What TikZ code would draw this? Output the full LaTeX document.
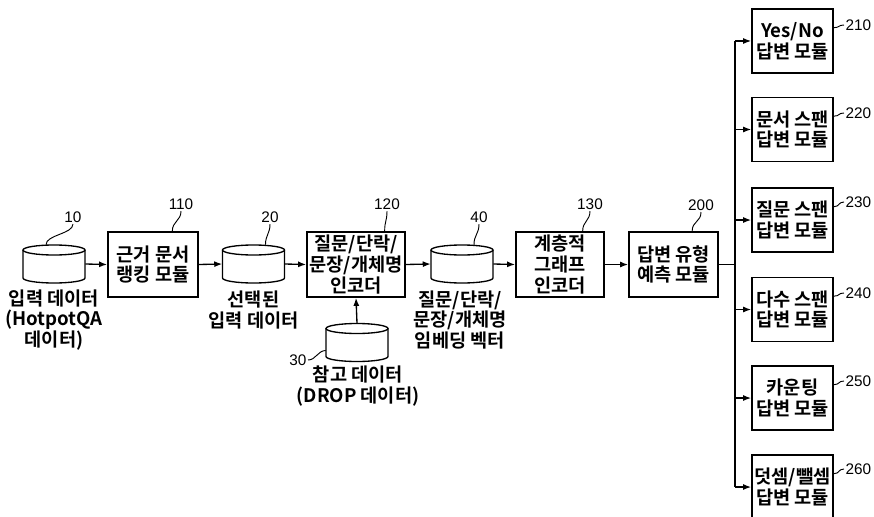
\documentclass[tikz,border=0pt]{standalone}
\usepackage{fontspec}
\newfontfamily\kr{Noto Sans CJK KR}[BoldFont={Noto Sans CJK KR Bold}]
\newfontfamily\numf{Liberation Sans}
\usetikzlibrary{arrows.meta}
\begin{document}
\begin{tikzpicture}[x=0.75pt,y=0.75pt,
  txt/.style={font=\kr\bfseries\fontsize{14}{15.5}\selectfont,align=center,inner sep=0pt},
  blk/.style={draw,line width=1.3pt,txt},
  midbox/.style={blk,minimum height=48.75pt},
  rbox/.style={blk,minimum width=60.75pt,minimum height=48pt},
  cylbox/.style={minimum width=46.5pt,minimum height=28.5pt,inner sep=0pt,draw=none},
  num/.style={font=\numf\fontsize{11.5}{13}\selectfont,inner sep=1pt},
  arr/.style={line width=1pt,-{Latex[length=6pt,width=4.5pt]}},
  ln/.style={line width=1pt},
  lead/.style={line width=0.7pt}]
\useasboundingbox (0,0) rectangle (874,-517);
\newcommand{\mycyl}[3]{%
  \node[cylbox] (#3) at (#1,#2) {};
  \draw[line width=1pt] ({#1-31},{#2+14}) -- ({#1-31},{#2-14})
     arc[start angle=180,end angle=360,x radius=31,y radius=5] -- ({#1+31},{#2+14});
  \draw[line width=1pt] (#1,{#2+14}) ellipse[x radius=31,y radius=5];}
% cylinders
\mycyl{54}{-264}{c10}
\mycyl{253.5}{-264}{c20}
\mycyl{357}{-342.5}{c30}
\mycyl{462}{-264}{c40}
% boxes
\node[midbox,minimum width=67.5pt] (b110) at (153,-264.5) {근거 문서\\랭킹 모듈};
\node[midbox,minimum width=73.5pt] (b120) at (356,-264.5) {질문/단락/\\문장/개체명\\인코더};
\node[midbox,minimum width=66pt] (b130) at (560,-264.5) {계층적\\그래프\\인코더};
\node[midbox,minimum width=66.75pt] (b200) at (673.5,-264.5) {답변 유형\\예측 모듈};
\node[rbox] (b210) at (792.5,-41) {Yes/No\\답변 모듈};
\node[rbox] (b220) at (792.5,-129.5) {문서 스팬\\답변 모듈};
\node[rbox] (b230) at (792.5,-220) {질문 스팬\\답변 모듈};
\node[rbox] (b240) at (792.5,-309.5) {다수 스팬\\답변 모듈};
\node[rbox] (b250) at (792.5,-398) {카운팅\\답변 모듈};
\node[rbox] (b260) at (792.5,-487) {덧셈/뺄셈\\답변 모듈};
% captions
\node[txt] (t10) at (54,-320) {입력 데이터\\(HotpotQA\\데이터)};
\node[txt] (t20) at (253.5,-310) {선택된\\입력 데이터};
\node[txt] (t30) at (358,-386) {참고 데이터\\(DROP 데이터)};
\node[txt] (t40) at (460,-320) {질문/단락/\\문장/개체명\\임베딩 벡터};
% connectors
\draw[arr] (c10.east) -- (b110.west);
\draw[arr] (b110.east) -- (c20.west);
\draw[arr] (c20.east) -- (b120.west);
\draw[arr] (b120.east) -- (c40.west);
\draw[arr] (c40.east) -- (b130.west);
\draw[arr] (b130.east) -- (b200.west);
\draw[arr] (c30.north) -- (b120.south);
\coordinate (bus) at (735,-264.5);
\draw[ln] (b200.east) -- (bus);
\draw[ln] (bus |- b210.west) -- (bus |- b260.west);
\foreach \b in {b210,b220,b230,b240,b250,b260}{
  \draw[arr] (bus |- \b.west) -- (\b.west);}
% reference numbers
\node[num] (n10) at (73,-217) {10};
\node[num] (n110) at (181,-204) {110};
\node[num] (n20) at (270,-217) {20};
\node[num] (n120) at (387,-204) {120};
\node[num] (n40) at (479,-217) {40};
\node[num] (n130) at (590,-204) {130};
\node[num] (n200) at (701,-205) {200};
\node[num,anchor=east] (n30) at (308,-360) {30};
\foreach \n/\y in {210/25,220/113,230/202,240/293,250/381,260/469}{
  \node[num,anchor=west] (n\n) at (844,-\y) {\n};}
% leaders
\draw[lead] ([xshift=-6pt]c10.north) .. controls +(0,10) and +(0,-10) .. (n10.south);
\draw[lead] ([xshift=14.5pt]b110.north) .. controls +(0,10) and +(0,-10) .. (n110.south);
\draw[lead] ([xshift=9pt]c20.north) .. controls +(0,10) and +(0,-10) .. (n20.south);
\draw[lead] ([xshift=21.5pt]b120.north) .. controls +(0,10) and +(0,-10) .. (n120.south);
\draw[lead] ([xshift=9pt]c40.north) .. controls +(0,10) and +(0,-10) .. (n40.south);
\draw[lead] ([xshift=17pt]b130.north) .. controls +(0,10) and +(0,-10) .. (n130.south);
\draw[lead] ([xshift=14pt]b200.north) .. controls +(0,10) and +(0,-10) .. (n200.south);
\draw[lead] ([yshift=-6pt]c30.west) .. controls +(-8,0) and +(8,0) .. (n30.east);
\foreach \b/\n in {b210/n210,b220/n220,b230/n230,b240/n240,b250/n250,b260/n260}{
  \draw[lead] ([yshift=10pt]\b.east) .. controls +(6,0) and +(-6,0) .. (\n.west);}
\end{tikzpicture}
\end{document}
